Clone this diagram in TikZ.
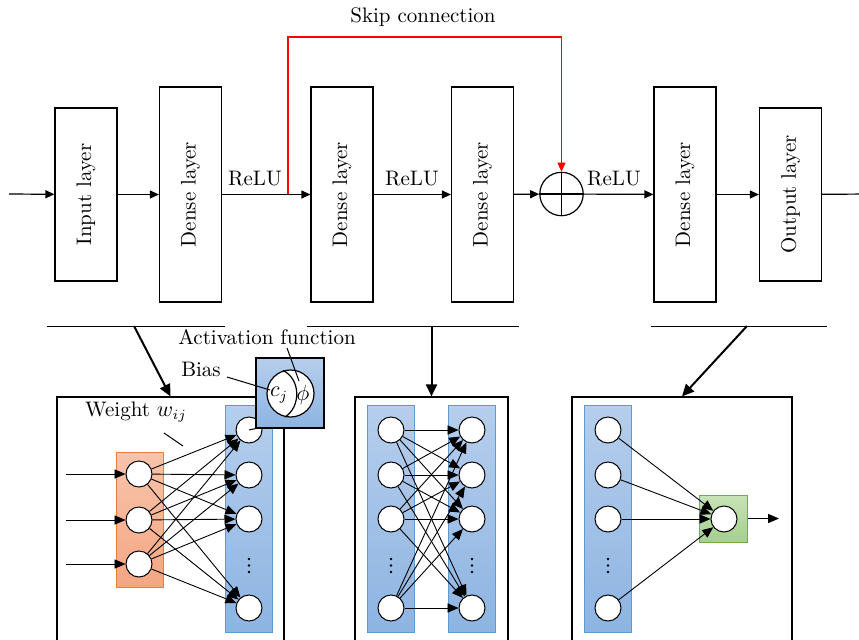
\documentclass[tikz,border=0pt]{standalone}
\usepackage{graphicx}
\usetikzlibrary{arrows.meta}
\definecolor{bluetop}{RGB}{182,206,236}
\definecolor{bluebot}{RGB}{141,180,226}
\definecolor{blueline}{RGB}{91,155,213}
\definecolor{orgtop}{RGB}{248,196,172}
\definecolor{orgbot}{RGB}{244,166,130}
\definecolor{orgline}{RGB}{237,125,49}
\definecolor{grntop}{RGB}{200,226,184}
\definecolor{grnbot}{RGB}{166,207,140}
\definecolor{grnline}{RGB}{112,173,71}
\tikzset{
  txt/.style={font=\fontsize{10.5pt}{12.6pt}\selectfont},
  layerbox/.style={draw, line width=0.6pt, minimum width=31pt, inner sep=0pt, txt},
  flow/.style={line width=0.6pt, -{Triangle[length=4.5pt,width=4pt]}},
  bigarrow/.style={line width=1pt, -{Triangle[length=6pt,width=5.5pt]}},
  netarrow/.style={line width=0.45pt, -{Triangle[length=5.5pt,width=4.6pt]}},
  neuron/.style={circle, draw, fill=white, line width=0.5pt, minimum size=13pt, inner sep=0pt},
  bluecol/.style={draw=blueline, line width=0.5pt, top color=bluetop, bottom color=bluebot, minimum width=23.5pt, minimum height=113.5pt, inner sep=0pt},
  frame/.style={draw, line width=0.6pt, inner sep=0pt},
  sep/.style={line width=0.5pt},
  vdot/.style={circle, fill=black, inner sep=0pt, minimum size=1.4pt},
}
\begin{document}
\begin{tikzpicture}[x=0.5pt,y=-0.5pt]
\useasboundingbox (0,0) rectangle (859,639);
\clip (0,0) rectangle (859,639);

% ---------- top row ----------
\coordinate (in0) at (9,194);
\node[layerbox, minimum height=86.5pt] (inl) at (86,194.5) {\rotatebox{90}{Input layer}};
\node[layerbox, minimum height=107.5pt] (d1) at (190.5,194.5) {\rotatebox{90}{Dense layer}};
\node[layerbox, minimum height=107.5pt] (d2) at (342,194.5) {\rotatebox{90}{Dense layer}};
\node[layerbox, minimum height=107.5pt] (d3) at (482.5,194.5) {\rotatebox{90}{Dense layer}};
\node[circle, draw, line width=0.6pt, minimum size=21.7pt, inner sep=0pt] (plus) at (561.5,194) {};
\draw[line width=0.6pt] (plus.north) -- (plus.south) (plus.west) -- (plus.east);
\node[layerbox, minimum height=107.5pt] (d4) at (685,194.5) {\rotatebox{90}{Dense layer}};
\node[layerbox, minimum height=86.5pt] (outl) at (790.5,194.5) {\rotatebox{90}{Output layer}};
\coordinate (out0) at (870,194);

\draw[flow] (in0) -- (inl);
\draw[flow] (inl) -- (d1);
\draw[flow] (d1) -- (d2);
\draw[flow] (d2) -- (d3);
\draw[flow] (d3) -- (plus);
\draw[flow] (plus) -- (d4);
\draw[flow] (d4) -- (outl);
\draw[flow] (outl) -- (out0);

\node[txt] (r1) at (255,179) {ReLU};
\node[txt] (r2) at (412,179) {ReLU};
\node[txt] (r3) at (614,179) {ReLU};

\coordinate (sk) at (288,194);
\coordinate (skt) at (561.5,37);
\draw[red, line width=0.6pt, -{Triangle[length=4.5pt,width=4pt]}] (sk) |- (skt) -- (plus.north);
\node[txt] (skl) at (423,17) {Skip connection};

% ---------- separators ----------
\coordinate (s1a) at (47,326);  \coordinate (s1b) at (225,326);
\coordinate (s2a) at (307,326); \coordinate (s2b) at (519,326);
\coordinate (s3a) at (651,326); \coordinate (s3b) at (827,326);
\draw[sep] (s1a) -- (s1b);
\draw[sep] (s2a) -- (s2b);
\draw[sep] (s3a) -- (s3b);

% ---------- frames ----------
\node[frame, minimum width=113.5pt, minimum height=141.5pt] (b1) at (170.5,538.5) {};
\node[frame, minimum width=76.5pt, minimum height=141.5pt] (b2) at (431.5,538.5) {};
\node[frame, minimum width=110pt, minimum height=141.5pt] (b3) at (682,538.5) {};

\coordinate (a1) at (134,326);
\coordinate (a2) at (431.5,326);
\coordinate (a3) at (747,326);
\draw[bigarrow] (a1) -- (b1.north);
\draw[bigarrow] (a2) -- (b2.north);
\draw[bigarrow] (a3) -- (b3.north);

% ---------- box 1 ----------
\node[draw=orgline, line width=0.5pt, top color=orgtop, bottom color=orgbot, minimum width=23.5pt, minimum height=67.5pt, inner sep=0pt] (orng) at (139.5,519.5) {};
\node[bluecol] (bc1) at (248.5,519) {};
\node[neuron] (i1) at (139,474) {};
\node[neuron] (i2) at (139,520) {};
\node[neuron] (i3) at (139,564) {};
\node[neuron] (o1) at (249,430) {};
\node[neuron] (o2) at (249,475) {};
\node[neuron] (o3) at (249,519) {};
\node[neuron] (o4) at (249,608) {};
\foreach \k/\y in {a/559,b/565.5,c/572}{ \node[vdot] (v1\k) at (249,\y) {}; }
\coordinate (x1) at (66,474);
\coordinate (x2) at (66,520);
\coordinate (x3) at (66,564);
\draw[netarrow] (x1) -- (i1);
\draw[netarrow] (x2) -- (i2);
\draw[netarrow] (x3) -- (i3);
\foreach \i in {1,2,3}{
  \foreach \o in {1,2,3,4}{
    \draw[netarrow] (i\i) -- (o\o);
  }
}
% activation detail
\node[draw, line width=0.6pt, top color=bluetop, bottom color=bluebot, minimum width=34pt, minimum height=35pt, inner sep=0pt] (act) at (290,393) {};
\draw[line width=0.5pt] (o1.center) -- (act.south west);
\node[circle, draw, fill=white, line width=0.6pt, minimum size=23.5pt, inner sep=0pt] (actc) at (290.5,393.5) {};
\coordinate (arcT) at (283,370.5);
\coordinate (arcB) at (285,417);
\draw[line width=0.6pt] (arcT) .. controls (301,379) and (301,407) .. (arcB);
\node[txt, inner sep=0pt] (cj) at (279,395) {$c_j$};
\node[txt, inner sep=0pt] (phi) at (303,395) {$\phi$};

\node[txt] (actl) at (267,337) {Activation function};
\coordinate (p1a) at (287,348); \coordinate (p1b) at (299,381);
\draw[line width=0.5pt] (p1a) -- (p1b);
\node[txt] (bias) at (201,369) {Bias};
\coordinate (p2a) at (227,377); \coordinate (p2b) at (270,390);
\draw[line width=0.5pt] (p2a) -- (p2b);
\node[txt] (wl) at (136,412) {Weight $w_{ij}$};
\coordinate (p3a) at (164,433); \coordinate (p3b) at (183,446);
\draw[line width=0.5pt] (p3a) -- (p3b);

% ---------- box 2 ----------
\node[bluecol] (bl2) at (390.5,518.5) {};
\node[bluecol] (br2) at (471.5,518.5) {};
\foreach \n/\y in {1/430,2/475,3/519,4/608}{
  \node[neuron] (L\n) at (391,\y) {};
  \node[neuron] (R\n) at (472,\y) {};
}
\foreach \k/\y in {a/559,b/565.5,c/572}{
  \node[vdot] (v2\k) at (391,\y) {};
  \node[vdot] (v3\k) at (472,\y) {};
}
\foreach \i in {1,2,3,4}{
  \foreach \o in {1,2,3,4}{
    \draw[netarrow] (L\i) -- (R\o);
  }
}

% ---------- box 3 ----------
\node[bluecol] (bc3) at (608,518.5) {};
\foreach \n/\y in {1/430,2/475,3/519,4/608}{
  \node[neuron] (N\n) at (608,\y) {};
}
\foreach \k/\y in {a/559,b/565.5,c/572}{ \node[vdot] (v4\k) at (608,\y) {}; }
\node[draw=grnline, line width=0.5pt, top color=grntop, bottom color=grnbot, minimum width=24pt, minimum height=23.5pt, inner sep=0pt] (grn) at (723,518.5) {};
\node[neuron] (fo) at (724,519) {};
\foreach \i in {1,2,3,4}{
  \draw[netarrow] (N\i) -- (fo);
}
\coordinate (fend) at (779,518.5);
\draw[netarrow] (grn.east) -- (fend);
\end{tikzpicture}
\end{document}
